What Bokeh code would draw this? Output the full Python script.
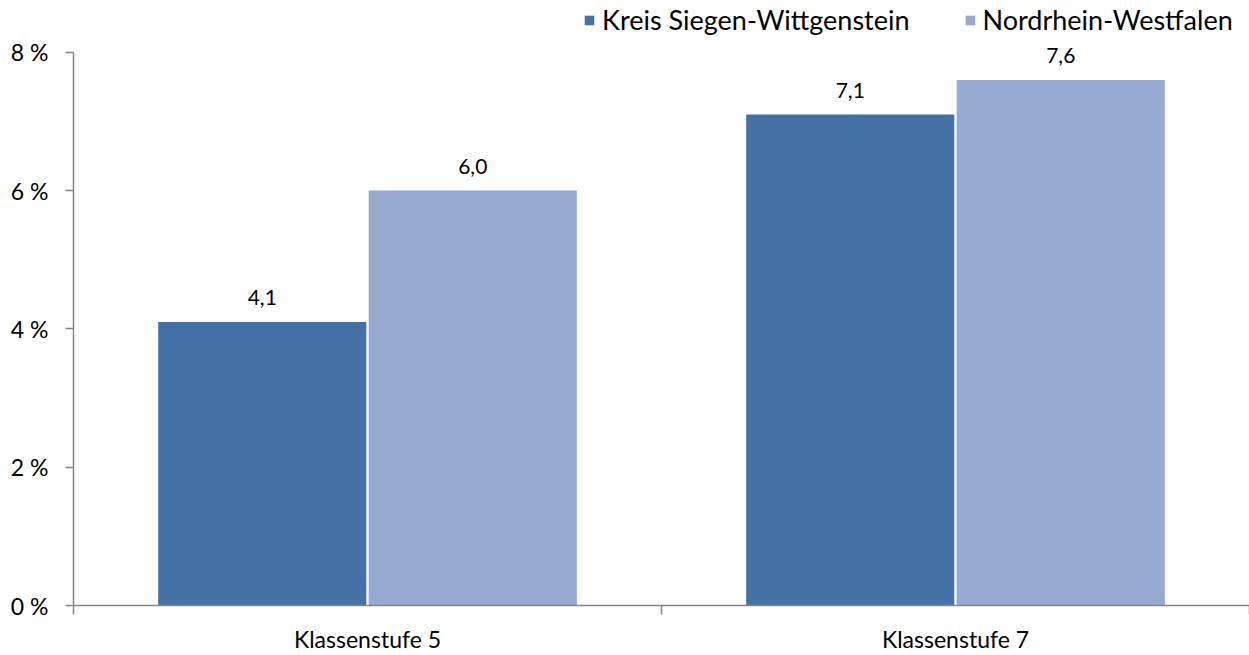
from bokeh.plotting import figure
from bokeh.models import ColumnDataSource, FixedTicker, Range1d, Legend, LegendItem
from bokeh.core.properties import value
from bokeh.embed import file_html
from bokeh.resources import INLINE

categories = ["Klassenstufe 5", "Klassenstufe 7"]
series_names = ["Kreis Siegen-Wittgenstein", "Nordrhein-Westfalen"]
kreis = [4.1, 7.1]
nrw = [6.0, 7.6]
y_ticks = [0, 2, 4, 6, 8]
y_tick_labels = ["0 %", "2 %", "4 %", "6 %", "8 %"]

colors = ["#4572A6", "#95A9D1"]
FONT = "Lato"

p = figure(width=1249, height=655, output_backend="svg", toolbar_location=None,
           x_range=Range1d(0, 2), y_range=Range1d(0, 8.7496),
           min_border_left=73, min_border_right=0, min_border_top=0, min_border_bottom=48)
p.outline_line_color = None
p.xgrid.visible = False
p.ygrid.visible = False

centers = [i + 0.5 for i in range(len(categories))]
bw = 0.354
off = 0.179
src1 = ColumnDataSource(dict(x=[c - off for c in centers], top=kreis,
                             lab=[f"{v:.1f}".replace(".", ",") for v in kreis]))
src2 = ColumnDataSource(dict(x=[c + off for c in centers], top=nrw,
                             lab=[f"{v:.1f}".replace(".", ",") for v in nrw]))
r1 = p.vbar(x="x", top="top", width=bw, bottom=0, source=src1, fill_color=colors[0], line_color=None)
r2 = p.vbar(x="x", top="top", width=bw, bottom=0, source=src2, fill_color=colors[1], line_color=None)

for s in (src1, src2):
    p.text(x="x", y="top", text="lab", source=s, text_align="center", text_baseline="bottom",
           y_offset=-17, text_font=value(FONT), text_font_size="21px", text_color="#000000")

# axes
p.yaxis.bounds = (0, 8)
p.yaxis.ticker = FixedTicker(ticks=y_ticks)
p.yaxis.major_label_overrides = {t: l for t, l in zip(y_ticks, y_tick_labels)}
p.yaxis.major_label_text_font = FONT
p.yaxis.major_label_text_font_size = "23px"
p.yaxis.major_label_text_color = "#000000"
p.yaxis.major_label_standoff = 17
p.yaxis.major_tick_out = 8
p.yaxis.major_tick_in = 0
p.yaxis.minor_tick_line_color = None
p.yaxis.axis_line_color = "#868686"
p.yaxis.axis_line_width = 1.5
p.yaxis.major_tick_line_color = "#868686"
p.yaxis.major_tick_line_width = 1.5

p.xaxis.ticker = FixedTicker(ticks=centers, minor_ticks=[0, 1, 2])
p.xaxis.major_label_overrides = {c: n for c, n in zip(centers, categories)}
p.xaxis.major_label_text_font = FONT
p.xaxis.major_label_text_font_size = "23px"
p.xaxis.major_label_text_color = "#000000"
p.xaxis.major_label_standoff = 10
p.xaxis.major_tick_line_color = None
p.xaxis.major_tick_out = 0
p.xaxis.major_tick_in = 0
p.xaxis.minor_tick_out = 9
p.xaxis.minor_tick_in = 0
p.xaxis.minor_tick_line_color = "#868686"
p.xaxis.minor_tick_line_width = 1.5
p.xaxis.axis_line_color = "#868686"
p.xaxis.axis_line_width = 1.5

legend = Legend(items=[LegendItem(label=series_names[0], renderers=[r1]),
                       LegendItem(label=series_names[1], renderers=[r2])],
                orientation="horizontal", location=(510, 569),
                glyph_width=12, glyph_height=12, label_standoff=7, spacing=54,
                padding=0, margin=0, border_line_color=None, background_fill_alpha=0,
                label_text_font=FONT, label_text_font_size="27px", label_text_color="#000000")
p.add_layout(legend)

open("out.html", "w").write(file_html(p, INLINE))
